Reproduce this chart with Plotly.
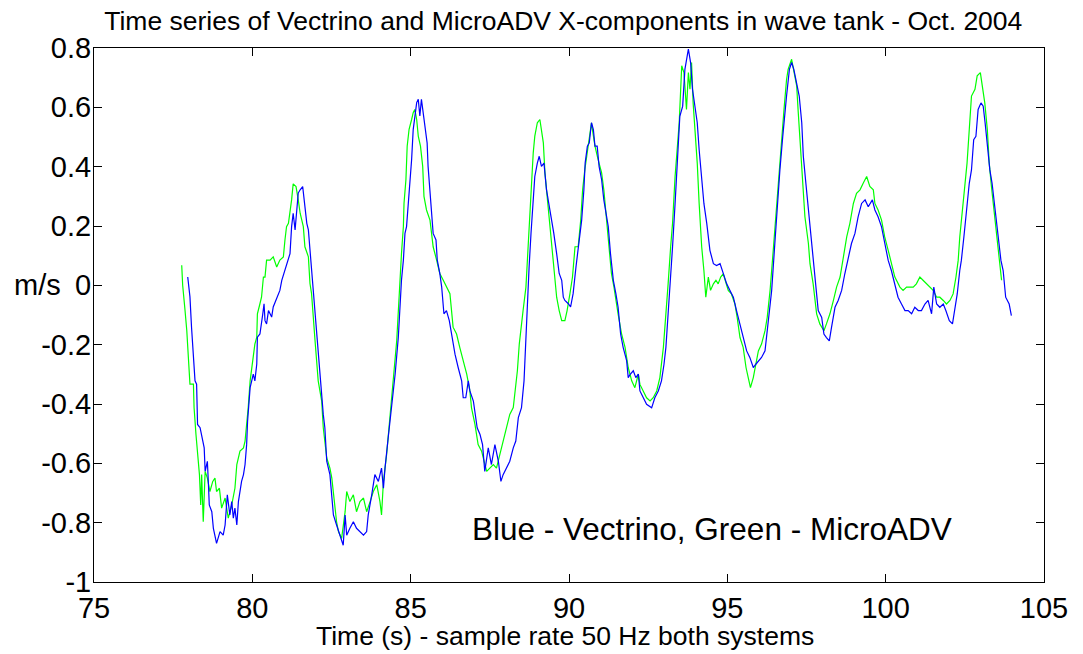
import plotly.graph_objects as go

# ---------------- data ----------------
micro_t = [
    77.77, 77.80, 77.87, 77.93, 77.98, 78.03, 78.14, 78.16, 78.22, 78.26, 78.33, 78.37, 78.40, 78.45,
    78.51, 78.58, 78.66, 78.75, 78.82, 78.87, 78.96, 79.03, 79.14, 79.24, 79.35, 79.45, 79.51, 79.61,
    79.72, 79.77, 79.84, 79.87, 79.93, 79.98, 80.08, 80.14, 80.16, 80.24, 80.29, 80.35, 80.40, 80.45,
    80.56, 80.66, 80.77, 80.87, 80.98, 81.03, 81.08, 81.14, 81.19, 81.24, 81.29, 81.38, 81.45, 81.51,
    81.61, 81.66, 81.77, 81.82, 81.87, 81.93, 81.98, 82.03, 82.08, 82.19, 82.24, 82.35, 82.45, 82.51,
    82.56, 82.66, 82.72, 82.82, 82.93, 82.98, 83.08, 83.19, 83.29, 83.40, 83.51, 83.61, 83.72, 83.82,
    83.93, 84.03, 84.08, 84.14, 84.24, 84.35, 84.45, 84.56,
    84.71, 84.77, 84.79, 84.85, 84.89, 84.95, 85.03, 85.08, 85.13, 85.19, 85.24, 85.31, 85.38, 85.42,
    85.50, 85.61, 85.66, 85.71, 85.82, 85.92, 86.03, 86.13, 86.24, 86.34, 86.45, 86.55, 86.66, 86.77,
    86.87, 86.92, 87.03, 87.13, 87.24, 87.34, 87.40, 87.50, 87.61, 87.71, 87.82, 87.92, 88.03, 88.13,
    88.24, 88.29, 88.37, 88.43, 88.50, 88.55, 88.64, 88.71, 88.77, 88.82, 88.87, 88.92, 89.00, 89.08,
    89.13, 89.19, 89.24, 89.34, 89.42, 89.48, 89.55, 89.61, 89.69, 89.77, 89.87, 89.94, 90.03, 90.11,
    90.19, 90.29, 90.37, 90.43, 90.50, 90.61, 90.71, 90.74, 90.82, 90.92, 91.03, 91.10, 91.19, 91.27,
    91.34, 91.42, 91.48, 91.55, 91.66, 91.77, 91.87, 91.98, 92.08, 92.19,
    92.24, 92.35, 92.45, 92.56, 92.66, 92.77, 92.87, 92.98, 93.06, 93.13, 93.21, 93.27, 93.35, 93.42,
    93.48, 93.56, 93.63, 93.71, 93.77, 93.82, 93.87, 93.92, 93.98, 94.05, 94.11, 94.19, 94.26, 94.32,
    94.40, 94.47, 94.56, 94.64, 94.71, 94.79, 94.87, 94.96, 95.03, 95.13, 95.24, 95.31, 95.40, 95.50,
    95.59, 95.66, 95.73, 95.82, 95.90, 95.98, 96.08, 96.19, 96.26, 96.35, 96.45, 96.53, 96.61, 96.71,
    96.79, 96.87, 96.92, 97.03, 97.10, 97.19, 97.24, 97.29, 97.35, 97.40, 97.45, 97.56, 97.61, 97.71,
    97.82, 97.92, 98.05, 98.13, 98.24, 98.35, 98.45, 98.56, 98.66, 98.77, 98.87, 98.98, 99.08, 99.19,
    99.29, 99.40,
    99.50, 99.61, 99.66, 99.76, 99.87, 99.97, 100.08, 100.18, 100.29, 100.45, 100.55, 100.66, 100.76,
    100.87, 100.97, 101.08, 101.18, 101.29, 101.39, 101.50, 101.61, 101.71, 101.82, 101.92, 102.03,
    102.13, 102.22, 102.29, 102.34, 102.43, 102.50, 102.57, 102.64, 102.71, 102.82, 102.89, 102.99,
    103.08, 103.13, 103.21, 103.27, 103.34, 103.42, 103.50, 103.58, 103.66,
]
micro_v = [
    0.068, 0.000, -0.079, -0.152, -0.243, -0.333, -0.333, -0.412, -0.503, -0.548, -0.638, -0.740, -0.638, -0.797,
    -0.627, -0.650, -0.695, -0.661, -0.650, -0.695, -0.684, -0.751, -0.717, -0.785, -0.740, -0.684, -0.604, -0.559,
    -0.548, -0.525, -0.458, -0.412, -0.322, -0.277, -0.198, -0.175, -0.096, -0.062, -0.040, 0.028, 0.028, 0.085,
    0.085, 0.096, 0.062, 0.085, 0.096, 0.153, 0.198, 0.209, 0.243, 0.288, 0.342, 0.333, 0.288, 0.243,
    0.198, 0.130, 0.096, 0.006, -0.028, -0.130, -0.186, -0.254, -0.322, -0.390, -0.480, -0.582, -0.616, -0.650,
    -0.706, -0.797, -0.830, -0.853, -0.763, -0.695, -0.729, -0.706, -0.763, -0.729, -0.717, -0.763, -0.729, -0.695,
    -0.672, -0.729, -0.774, -0.661, -0.571, -0.435, -0.322, -0.186,
    0.107, 0.198, 0.277, 0.356, 0.469, 0.526, 0.559, 0.582, 0.593, 0.559, 0.503, 0.469, 0.401, 0.300,
    0.254, 0.220, 0.175, 0.130, 0.085, 0.040, 0.017, -0.006, -0.028, -0.141, -0.164, -0.209, -0.254, -0.299,
    -0.356, -0.412, -0.469, -0.537, -0.559, -0.604, -0.627, -0.616, -0.604, -0.616, -0.571, -0.525, -0.480, -0.435,
    -0.412, -0.367, -0.288, -0.198, -0.119, -0.085, -0.006, 0.130, 0.243, 0.367, 0.446, 0.503, 0.548, 0.559,
    0.525, 0.480, 0.379, 0.266, 0.186, 0.130, 0.040, -0.040, -0.085, -0.119, -0.119, -0.085, -0.028, 0.028,
    0.130, 0.130, 0.220, 0.322, 0.390, 0.469, 0.548, 0.525, 0.469, 0.424, 0.379, 0.322, 0.220, 0.107,
    0.040, -0.006, -0.051, -0.096, -0.164, -0.209, -0.277, -0.322, -0.345, -0.299,
    -0.334, -0.356, -0.379, -0.390, -0.379, -0.356, -0.311, -0.209, -0.108, 0.005, 0.130, 0.209, 0.367, 0.468,
    0.548, 0.740, 0.717, 0.593, 0.717, 0.661, 0.751, 0.615, 0.525, 0.412, 0.276, 0.130, 0.050, -0.040,
    0.028, -0.017, 0.005, 0.017, 0.005, 0.028, 0.039, 0.005, -0.017, -0.029, -0.063, -0.108, -0.176, -0.209,
    -0.277, -0.311, -0.345, -0.311, -0.266, -0.221, -0.198, -0.153, -0.108, -0.017, 0.118, 0.231, 0.367, 0.480,
    0.593, 0.694, 0.728, 0.762, 0.717, 0.672, 0.582, 0.491, 0.412, 0.322, 0.231, 0.141, 0.073, 0.005,
    -0.096, -0.130, -0.153, -0.130, -0.096, -0.051, -0.006, 0.028, 0.096, 0.163, 0.209, 0.276, 0.310, 0.322,
    0.344, 0.367,
    0.333, 0.322, 0.276, 0.254, 0.220, 0.163, 0.118, 0.073, 0.028, -0.006, -0.017, -0.006, -0.006,
    -0.006, 0.005, 0.028, 0.017, 0.005, -0.006, -0.017, -0.040, -0.040, -0.051, -0.063, -0.051,
    -0.029, 0.028, 0.084, 0.163, 0.254, 0.333, 0.412, 0.525, 0.638, 0.661, 0.706, 0.717,
    0.649, 0.615, 0.525, 0.412, 0.333, 0.254, 0.175, 0.096, 0.017,
]

vectrino_t = [
    77.96, 78.03, 78.08, 78.14, 78.19, 78.24, 78.27, 78.35, 78.43, 78.48, 78.51, 78.58, 78.61, 78.64,
    78.72, 78.77, 78.87, 78.98, 79.08, 79.14, 79.21, 79.29, 79.35, 79.40, 79.45, 79.51, 79.56, 79.66,
    79.72, 79.77, 79.82, 79.85, 79.93, 79.98, 80.03, 80.08, 80.14, 80.16, 80.24, 80.33, 80.37, 80.40,
    80.45, 80.51, 80.61, 80.66, 80.75, 80.87, 80.93, 81.03, 81.08, 81.19, 81.24, 81.29, 81.35, 81.40,
    81.45, 81.51, 81.59, 81.66, 81.72, 81.77, 81.82, 81.87, 81.93, 81.98, 82.03, 82.08, 82.14, 82.19,
    82.24, 82.29, 82.35, 82.45, 82.56, 82.66, 82.77, 82.87, 82.93, 82.98, 83.08, 83.19, 83.29, 83.40,
    83.51, 83.61, 83.66, 83.77, 83.87, 83.98, 84.08, 84.14, 84.19, 84.29, 84.40, 84.51, 84.61,
    84.66, 84.71, 84.77, 84.82, 84.87, 84.92, 84.98, 85.03, 85.08, 85.13, 85.19, 85.24, 85.29, 85.34,
    85.40, 85.45, 85.52, 85.55, 85.63, 85.66, 85.71, 85.80, 85.84, 85.92, 85.98, 86.05, 86.13, 86.22,
    86.29, 86.34, 86.40, 86.50, 86.61, 86.66, 86.74, 86.82, 86.87, 86.98, 87.03, 87.10, 87.19, 87.27,
    87.34, 87.45, 87.55, 87.66, 87.77, 87.85, 87.92, 88.03, 88.13, 88.24, 88.32, 88.40, 88.50, 88.58,
    88.64, 88.68, 88.74, 88.80, 88.87, 88.92, 89.00, 89.06, 89.13, 89.21, 89.29, 89.38, 89.45, 89.52,
    89.61, 89.69, 89.77, 89.82, 89.87, 89.98, 90.05, 90.13, 90.22, 90.29, 90.34, 90.40, 90.47, 90.51,
    90.58, 90.64, 90.71, 90.77, 90.82, 90.89, 90.95, 91.03, 91.10, 91.17, 91.24, 91.31, 91.40, 91.48,
    91.55, 91.63, 91.71, 91.82, 91.87, 91.94, 92.03, 92.11, 92.19,
    92.24, 92.35, 92.45, 92.61, 92.71, 92.82, 92.92, 93.00, 93.06, 93.13, 93.21, 93.27, 93.35, 93.42,
    93.50, 93.59, 93.66, 93.77, 93.84, 93.90, 93.98, 94.05, 94.11, 94.19, 94.26, 94.35, 94.45, 94.56,
    94.66, 94.77, 94.87, 94.98, 95.08, 95.19, 95.29, 95.40, 95.50, 95.61, 95.71, 95.82, 95.90, 95.98,
    96.08, 96.19, 96.29, 96.40, 96.50, 96.58, 96.66, 96.75, 96.82, 96.87, 96.96, 97.03, 97.10, 97.19,
    97.27, 97.35, 97.40, 97.48, 97.56, 97.63, 97.71, 97.80, 97.87, 97.98, 98.05, 98.13, 98.22, 98.29,
    98.40, 98.50, 98.61, 98.71, 98.82, 98.92, 99.03, 99.13, 99.24, 99.35, 99.45,
    99.50, 99.58, 99.66, 99.76, 99.87, 99.97, 100.08, 100.18, 100.29, 100.39, 100.50, 100.61, 100.71,
    100.82, 100.92, 101.03, 101.13, 101.24, 101.34, 101.45, 101.52, 101.61, 101.71, 101.82, 101.90,
    102.01, 102.11, 102.18, 102.26, 102.34, 102.39, 102.47, 102.55, 102.64, 102.71, 102.78, 102.85,
    102.92, 103.01, 103.08, 103.14, 103.21, 103.29, 103.36, 103.45, 103.55, 103.64, 103.71, 103.79,
    103.90, 103.97,
]
vectrino_v = [
    0.028, -0.039, -0.141, -0.232, -0.322, -0.333, -0.469, -0.480, -0.525, -0.548, -0.627, -0.593, -0.661, -0.740,
    -0.763, -0.819, -0.870, -0.830, -0.842, -0.808, -0.706, -0.774, -0.729, -0.785, -0.751, -0.808, -0.729, -0.661,
    -0.638, -0.604, -0.537, -0.458, -0.345, -0.322, -0.299, -0.322, -0.265, -0.175, -0.164, -0.096, -0.062, -0.119,
    -0.130, -0.085, -0.107, -0.073, -0.051, -0.017, 0.017, 0.051, 0.073, 0.107, 0.198, 0.243, 0.187, 0.266,
    0.311, 0.322, 0.333, 0.266, 0.209, 0.187, 0.119, 0.062, -0.017, -0.073, -0.141, -0.209, -0.288, -0.356,
    -0.435, -0.480, -0.593, -0.638, -0.774, -0.808, -0.842, -0.876, -0.774, -0.842, -0.819, -0.797, -0.819, -0.830,
    -0.842, -0.830, -0.774, -0.706, -0.638, -0.661, -0.616, -0.684, -0.616, -0.514, -0.412, -0.299, -0.175,
    -0.073, 0.017, 0.085, 0.175, 0.198, 0.266, 0.333, 0.424, 0.525, 0.559, 0.616, 0.627, 0.571, 0.627,
    0.582, 0.537, 0.480, 0.401, 0.300, 0.266, 0.175, 0.153, 0.085, 0.040, -0.006, -0.096, -0.085, -0.119,
    -0.164, -0.198, -0.232, -0.277, -0.322, -0.379, -0.379, -0.322, -0.356, -0.390, -0.435, -0.480, -0.503, -0.537,
    -0.627, -0.548, -0.604, -0.537, -0.593, -0.661, -0.638, -0.616, -0.593, -0.548, -0.525, -0.446, -0.412, -0.322,
    -0.164, -0.073, 0.062, 0.175, 0.311, 0.367, 0.412, 0.435, 0.401, 0.412, 0.322, 0.266, 0.220, 0.175,
    0.107, 0.040, 0.017, -0.040, -0.051, -0.062, -0.073, -0.028, 0.062, 0.119, 0.175, 0.220, 0.322, 0.412,
    0.469, 0.480, 0.548, 0.525, 0.469, 0.469, 0.401, 0.356, 0.288, 0.243, 0.198, 0.107, 0.017, -0.028,
    -0.073, -0.164, -0.209, -0.254, -0.311, -0.299, -0.288, -0.311, -0.299,
    -0.356, -0.379, -0.401, -0.413, -0.379, -0.356, -0.322, -0.266, -0.209, -0.096, 0.017, 0.130, 0.276, 0.435,
    0.570, 0.604, 0.728, 0.796, 0.751, 0.661, 0.604, 0.548, 0.457, 0.367, 0.276, 0.209, 0.118, 0.073,
    0.067, 0.073, 0.039, 0.005, -0.017, -0.040, -0.085, -0.130, -0.176, -0.221, -0.243, -0.277, -0.266, -0.255,
    -0.243, -0.221, -0.130, -0.017, 0.141, 0.276, 0.389, 0.502, 0.593, 0.638, 0.728, 0.751, 0.728, 0.683,
    0.638, 0.548, 0.435, 0.344, 0.254, 0.163, 0.096, -0.017, -0.085, -0.108, -0.164, -0.176, -0.187, -0.142,
    -0.074, -0.051, -0.017, 0.039, 0.096, 0.141, 0.175, 0.231, 0.276, 0.288, 0.265,
    0.276, 0.288, 0.254, 0.231, 0.197, 0.141, 0.084, 0.050, 0.005, -0.040, -0.063, -0.085, -0.085,
    -0.096, -0.074, -0.085, -0.085, -0.063, -0.051, -0.096, -0.006, -0.063, -0.074, -0.063, -0.085,
    -0.119, -0.130, -0.085, -0.029, 0.050, 0.084, 0.163, 0.254, 0.344, 0.389, 0.491, 0.502,
    0.593, 0.615, 0.604, 0.548, 0.468, 0.389, 0.344, 0.265, 0.175, 0.084, 0.050, -0.040,
    -0.063, -0.102,
]

x_ticks = [75, 80, 85, 90, 95, 100, 105]
y_ticks = [0.8, 0.6, 0.4, 0.2, 0, -0.2, -0.4, -0.6, -0.8, -1]
y_tick_labels = ["0.8", "0.6", "0.4", "0.2", "0", "-0.2", "-0.4", "-0.6", "-0.8", "-1"]

title_text = "Time series of Vectrino and MicroADV X-components in wave tank - Oct. 2004"
x_title = "Time (s) - sample rate 50 Hz both systems"
y_title = "m/s"
note_text = "Blue - Vectrino, Green - MicroADV"

FONT = "Liberation Sans, Arial, Helvetica, sans-serif"

fig = go.Figure()
fig.add_trace(go.Scatter(x=micro_t, y=micro_v, mode="lines",
                         line=dict(color="#00ff00", width=1.2), name="MicroADV"))
fig.add_trace(go.Scatter(x=vectrino_t, y=vectrino_v, mode="lines",
                         line=dict(color="#0000ff", width=1.2), name="Vectrino"))

axis_common = dict(showgrid=False, zeroline=False, showline=True, linecolor="black",
                   linewidth=1, mirror="allticks", ticks="inside", ticklen=8,
                   tickwidth=1, tickcolor="black", automargin=False,
                   tickfont=dict(family=FONT, size=29, color="black"))

fig.update_xaxes(range=[75, 105], tickvals=x_ticks, ticktext=[str(v) for v in x_ticks],
                 **axis_common)
fig.update_yaxes(range=[-1, 0.8], tickvals=y_ticks, ticktext=y_tick_labels,
                 ticklabelstandoff=-4, **axis_common)

fig.update_layout(
    width=1083, height=654,
    paper_bgcolor="white", plot_bgcolor="white",
    showlegend=False,
    margin=dict(l=94, r=39, t=48, b=72, pad=0),
    title=dict(text=title_text, x=0.494, xref="paper", xanchor="center",
               y=0.968, yref="container", yanchor="middle",
               font=dict(family=FONT, size=26.5, color="black")),
    annotations=[
        dict(text=note_text, x=86.86, y=-0.82, xref="x", yref="y",
             xanchor="left", yanchor="middle", showarrow=False,
             font=dict(family=FONT, size=31.5, color="black")),
        dict(text=x_title, x=0.496, y=-0.102, xref="paper", yref="paper",
             xanchor="center", yanchor="middle", showarrow=False,
             font=dict(family=FONT, size=26.5, color="black")),
        dict(text=y_title, x=-0.0326, y=0, xref="paper", yref="y",
             xanchor="right", yanchor="middle", showarrow=False,
             font=dict(family=FONT, size=29, color="black")),
    ],
)

fig.write_html("out.html", config={"displayModeBar": False},
               post_script="document.body.style.margin='0px';")
